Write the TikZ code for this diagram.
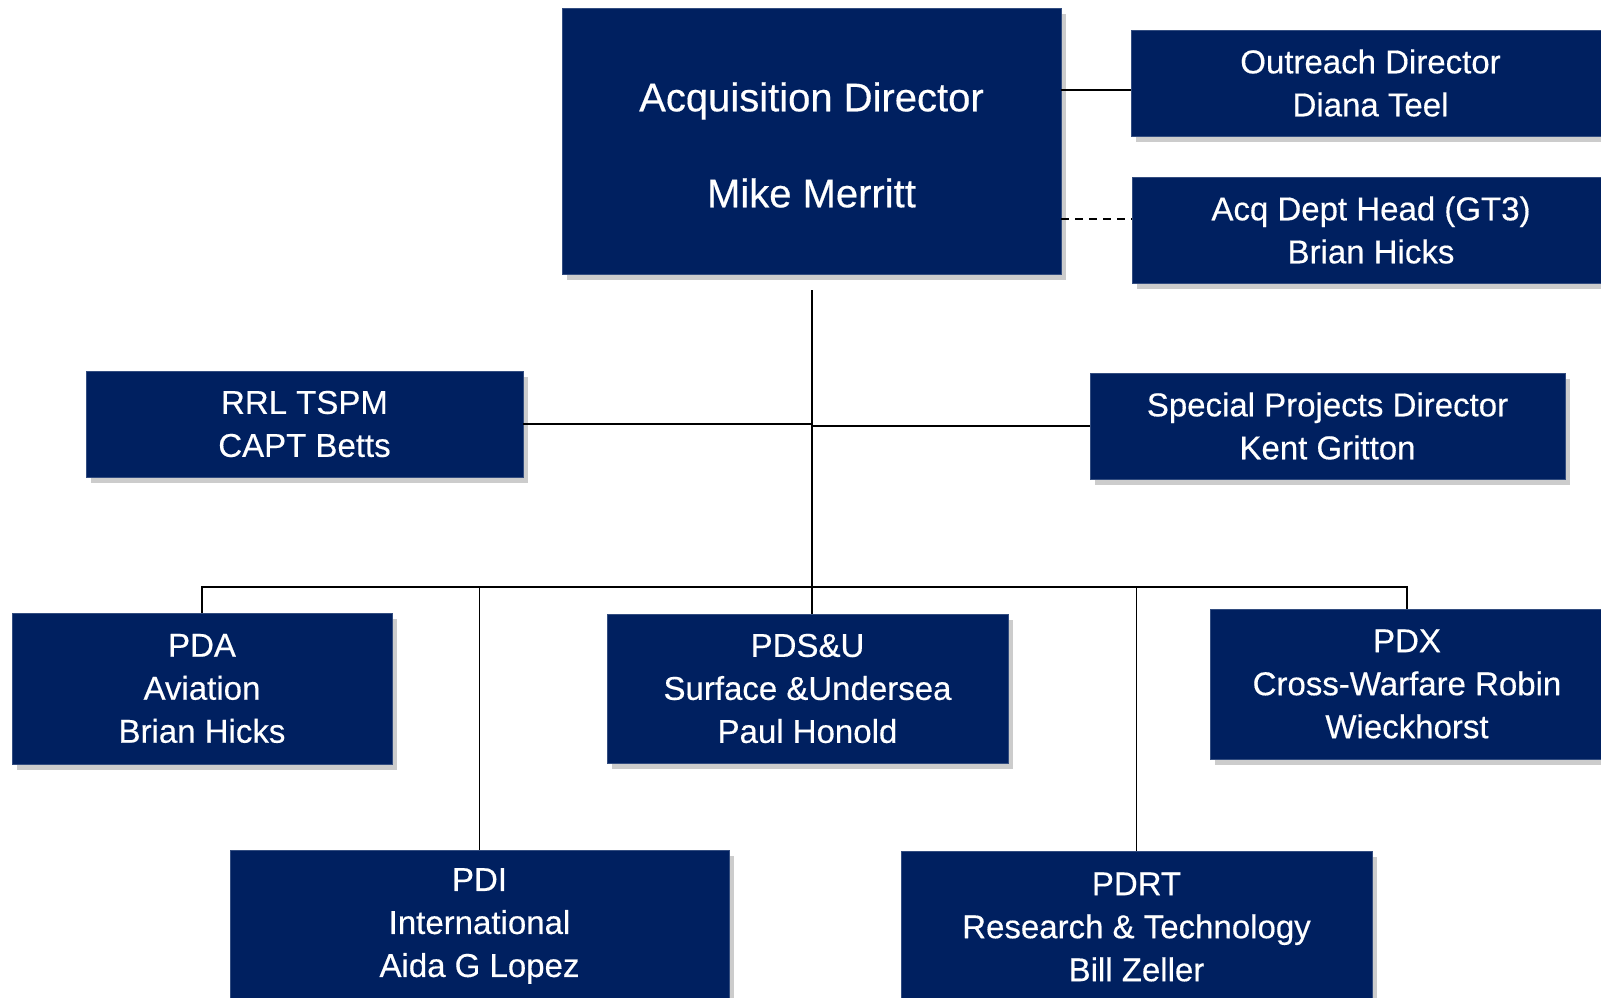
\documentclass[tikz,border=0pt]{standalone}
\usepackage{fontspec}
\setmainfont{Liberation Sans}[FakeBold=0.4]
\usetikzlibrary{shadows,calc}
\definecolor{navyblue}{HTML}{002060}

\begin{document}
\begin{tikzpicture}[x=1pt, y=-1pt,
  every node/.style={font=\fontsize{33}{43}\selectfont, text=white},
  orgbox/.style={fill=navyblue, draw=navyblue!80!white, line width=0.6pt, inner sep=0pt, align=center,
    drop shadow={shadow xshift=5pt, shadow yshift=-6pt, opacity=0.2, fill=black}},
  link/.style={line width=1.8pt, black}]
  \fill[white] (0,0) rectangle (1601,998);
  \useasboundingbox (0,0) rectangle (1601,998);
  % top level
  \node[orgbox, minimum width=499, minimum height=266, font=\fontsize{40}{48}\selectfont] (acq) at (811.5,141) {\rule{0pt}{37pt}Acquisition Director\\[48pt]Mike Merritt};
  \node[orgbox, minimum width=479, minimum height=106] (outreach) at (1370.5,83) {Outreach Director\\Diana Teel};
  \node[orgbox, minimum width=478, minimum height=106] (acqdept) at (1371,230) {Acq Dept Head (GT3)\\Brian Hicks};
  % staff
  \node[orgbox, minimum width=437, minimum height=106] (rrl) at (304.5,424) {RRL TSPM\\CAPT Betts};
  \node[orgbox, minimum width=475, minimum height=106] (special) at (1327.5,426) {Special Projects Director\\Kent Gritton};
  % divisions
  \node[orgbox, minimum width=380, minimum height=151] (pda) at (202,688.5) {PDA\\Aviation\\Brian Hicks};
  \node[orgbox, minimum width=401, minimum height=149] (pdsu) at (807.5,688.5) {PDS\&U\\Surface \&Undersea\\Paul Honold};
  \node[orgbox, minimum width=394, minimum height=150] (pdx) at (1407,684) {PDX\\Cross-Warfare Robin\\Wieckhorst};
  \node[orgbox, minimum width=499, minimum height=152] (pdi) at (479.5,926) {PDI\\International\\Aida G Lopez};
  \node[orgbox, minimum width=471, minimum height=152] (pdrt) at (1136.5,927) {PDRT\\Research \& Technology\\Bill Zeller};

  \coordinate (outin) at ($(outreach.west)+(0,7)$);
  \coordinate (deptin) at ($(acqdept.west)+(0,-11)$);
  \coordinate (trunktop) at (812,290);
  \coordinate (bus) at (812,587);

  \draw[link] (acq.east |- outin) -- (outin);
  \draw[link, dash pattern=on 8pt off 6pt] (acq.east |- deptin) -- (deptin);
  \draw[link] (trunktop) -- (trunktop |- pdsu.north);
  \draw[link] (rrl.east) -- (rrl.east -| trunktop);
  \draw[link] (trunktop |- special.west) -- (special.west);
  \draw[link] (pda.north) -- (pda.north |- bus) -- (pdx.north |- bus) -- (pdx.north);
  \draw[link] (pdi.north |- bus) -- (pdi.north);
  \draw[link] (pdrt.north |- bus) -- (pdrt.north);
\end{tikzpicture}
\end{document}
